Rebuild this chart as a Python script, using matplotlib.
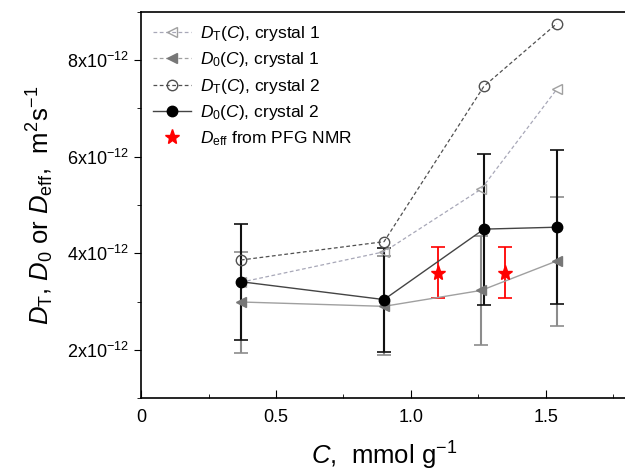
import matplotlib
matplotlib.use('Agg')
import matplotlib.pyplot as plt
from matplotlib.lines import Line2D
from matplotlib.ticker import MultipleLocator, FuncFormatter

plt.rcParams['font.family'] = ['Liberation Sans', 'DejaVu Sans']
plt.rcParams['mathtext.fontset'] = 'custom'
plt.rcParams['mathtext.rm'] = 'Liberation Sans'
plt.rcParams['mathtext.it'] = 'Liberation Sans:italic'

# данные (D в м^2/с)
c1 = [0.37, 0.90, 1.26, 1.54]          # кристалл 1
c2 = [0.37, 0.90, 1.27, 1.54]          # кристалл 2
dt1 = [3.40e-12, 4.03e-12, 5.33e-12, 7.40e-12]
d01 = [2.99e-12, 2.90e-12, 3.23e-12, 3.84e-12]
d01_lo = [1.94e-12, 1.90e-12, 2.09e-12, 2.49e-12]
d01_hi = [4.03e-12, 3.95e-12, 4.36e-12, 5.17e-12]
dt2 = [3.86e-12, 4.24e-12, 7.46e-12, 8.76e-12]
d02 = [3.41e-12, 3.04e-12, 4.50e-12, 4.54e-12]
d02_lo = [2.21e-12, 1.96e-12, 2.93e-12, 2.95e-12]
d02_hi = [4.61e-12, 4.10e-12, 6.06e-12, 6.13e-12]
c_nmr = [1.10, 1.35]
deff = [3.59e-12, 3.59e-12]
deff_lo = [3.07e-12, 3.07e-12]
deff_hi = [4.14e-12, 4.14e-12]


def err(y, lo, hi):
    return [[a - b for a, b in zip(y, lo)], [b - a for a, b in zip(y, hi)]]


fig = plt.figure(figsize=(6.25, 4.74), dpi=100)
ax = fig.add_axes([0.2256, 0.1603, 0.7776, 0.8144])

ax.errorbar(c1, d01, yerr=err(d01, d01_lo, d01_hi), fmt='none', ecolor='#8c8c8c',
            elinewidth=1.5, capsize=5, capthick=1.2, zorder=2)
ax.errorbar(c2, d02, yerr=err(d02, d02_lo, d02_hi), fmt='none', ecolor='#111111',
            elinewidth=1.5, capsize=5, capthick=1.2, zorder=3)
ax.errorbar(c_nmr, deff, yerr=err(deff, deff_lo, deff_hi), fmt='none', ecolor='red',
            elinewidth=1.3, capsize=5, capthick=1.2, zorder=3)

ax.plot(c1, dt1, ls=(0, (3, 2)), lw=0.9, color='#a8a8b8', marker='<', ms=7.5,
        mfc='none', mec='#a0a0a0', zorder=4)
ax.plot(c1, d01, ls='-', lw=1.0, color='#a0a0a0', marker='<', ms=7.5,
        mfc='#777777', mec='#777777', zorder=4)
ax.plot(c2, dt2, ls=(0, (3, 2)), lw=0.9, color='#505050', marker='o', ms=7.5,
        mfc='none', mec='#505050', zorder=4)
ax.plot(c2, d02, ls='-', lw=1.0, color='#444444', marker='o', ms=7.5,
        mfc='black', mec='black', zorder=5)
ax.plot(c_nmr, deff, ls='none', marker='*', ms=11, color='red', zorder=6)

handles = [
    Line2D([], [], ls=(0, (3, 2)), lw=0.9, color='#a8a8b8', marker='<', ms=7.5, mfc='none', mec='#a0a0a0'),
    Line2D([], [], ls=(0, (3, 2)), lw=0.9, color='#a0a0a0', marker='<', ms=7.5, mfc='#777777', mec='#777777'),
    Line2D([], [], ls=(0, (3, 2)), lw=0.9, color='#505050', marker='o', ms=7.5, mfc='none', mec='#505050'),
    Line2D([], [], ls='-', lw=1.0, color='#444444', marker='o', ms=7.5, mfc='black', mec='black'),
    Line2D([], [], ls='none', marker='*', ms=11, color='red'),
]
labels = [r'$D_{\mathrm{T}}(C)$, crystal 1', r'$D_{0}(C)$, crystal 1',
          r'$D_{\mathrm{T}}(C)$, crystal 2', r'$D_{0}(C)$, crystal 2',
          r'$D_{\mathrm{eff}}$ from PFG NMR']
ax.legend(handles, labels, loc='upper left', frameon=False, fontsize=12.5,
          handlelength=2.2, handletextpad=0.5, labelspacing=0.42,
          borderaxespad=0.3, bbox_to_anchor=(0.0, 1.0))

ax.set_xlim(0, 1.8)
ax.set_ylim(1e-12, 9e-12)
ax.xaxis.set_major_locator(MultipleLocator(0.5))
ax.xaxis.set_minor_locator(MultipleLocator(0.25))
ax.yaxis.set_major_locator(MultipleLocator(2e-12))
ax.yaxis.set_minor_locator(MultipleLocator(1e-12))
ax.xaxis.set_major_formatter(FuncFormatter(lambda v, p: '0' if v == 0 else '%.1f' % v))
ax.yaxis.set_major_formatter(FuncFormatter(lambda v, p: r'%dx10$^{\mathregular{-12}}$' % round(v * 1e12)))
ax.yaxis.offsetText.set_visible(False)
ax.tick_params(axis='x', which='both', direction='in', labelsize=13, pad=8)
ax.tick_params(axis='x', which='major', length=6)
ax.tick_params(axis='x', which='minor', length=3)
ax.tick_params(axis='y', which='both', direction='out', labelsize=13)
ax.tick_params(axis='y', which='major', length=5)
ax.tick_params(axis='y', which='minor', length=3)
ax.spines['right'].set_visible(False)
for s in ['left', 'bottom', 'top']:
    ax.spines[s].set_linewidth(1.2)

ax.set_xlabel(r'$C$,  mmol g$^{\mathregular{-1}}$', fontsize=18.5, labelpad=10)
ax.set_ylabel(r'$D_{\mathrm{T}}$, $D_{0}$ or $D_{\mathrm{eff}}$,  m$^{\mathregular{2}}$s$^{\mathregular{-1}}$',
              fontsize=18.5, labelpad=8)

fig.savefig('out.png', dpi=100)
